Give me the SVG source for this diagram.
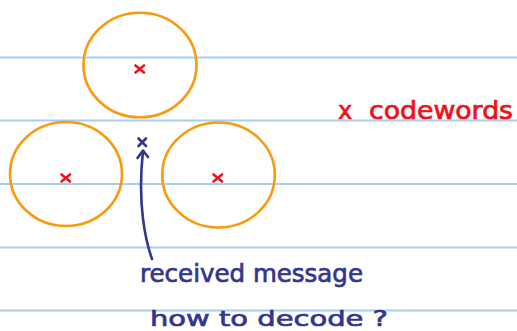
<svg xmlns="http://www.w3.org/2000/svg" width="517" height="331" viewBox="0 0 517 331">
<style>
.rule{stroke:#a6cdf4;stroke-width:2}
.ball{fill:none;stroke:#f99a0e;stroke-width:2.6}
.cw{stroke:#f0101a;stroke-width:2.6;stroke-linecap:round;fill:none}
.rx{stroke:#33358f;stroke-width:2.6;stroke-linecap:round;fill:none}
.conn{stroke:#33358f;stroke-width:2.6;stroke-linecap:round;stroke-linejoin:round;fill:none}
.lab{font-family:"DejaVu Sans",sans-serif;font-size:24px;stroke-width:0.7px}
.red{fill:#f0101a;stroke:#f0101a}
.blue{fill:#33358f;stroke:#33358f}
</style>
<rect width="517" height="331" fill="#ffffff"/>
<g id="rules">
<line class="rule" x1="0" y1="57.5" x2="517" y2="57.5"/>
<line class="rule" x1="0" y1="120.5" x2="517" y2="120.5"/>
<line class="rule" x1="0" y1="184" x2="517" y2="184"/>
<line class="rule" x1="0" y1="247.5" x2="517" y2="247.5"/>
<line class="rule" x1="0" y1="310.5" x2="517" y2="310.5"/>
</g>
<g id="codeword-top">
<ellipse class="ball" cx="140" cy="65" rx="56.5" ry="52.3"/>
<path class="cw" d="M135.5,65.5 L144,72.5 M144,65.5 L135.5,72.5"/>
</g>
<g id="codeword-left">
<ellipse class="ball" cx="66" cy="174" rx="56" ry="52"/>
<path class="cw" d="M61.5,174.5 L70,181.5 M70,174.5 L61.5,181.5"/>
</g>
<g id="codeword-right">
<ellipse class="ball" cx="218.5" cy="175" rx="56.3" ry="52.5"/>
<path class="cw" d="M213.5,174.5 L222,181.5 M222,174.5 L213.5,181.5"/>
</g>
<g id="received">
<path class="rx" d="M138.5,138.5 L146,146 M146,138.5 L138.5,146"/>
</g>
<g id="connectors">
<path class="conn" d="M152,259 C146,242 137,205 143,151"/>
<path class="conn" d="M137.5,158 L143,150.5 L148,157"/>
</g>
<g id="legend">
<text class="lab red" x="338" y="119">x</text>
<text class="lab red" x="369" y="119" textLength="144" lengthAdjust="spacingAndGlyphs">codewords</text>
</g>
<g id="labels">
<text class="lab blue" x="140" y="282" textLength="223" lengthAdjust="spacingAndGlyphs">received message</text>
<text class="lab blue" x="150" y="325.5" style="font-size:22px" textLength="238" lengthAdjust="spacingAndGlyphs">how to decode ?</text>
</g>
</svg>
